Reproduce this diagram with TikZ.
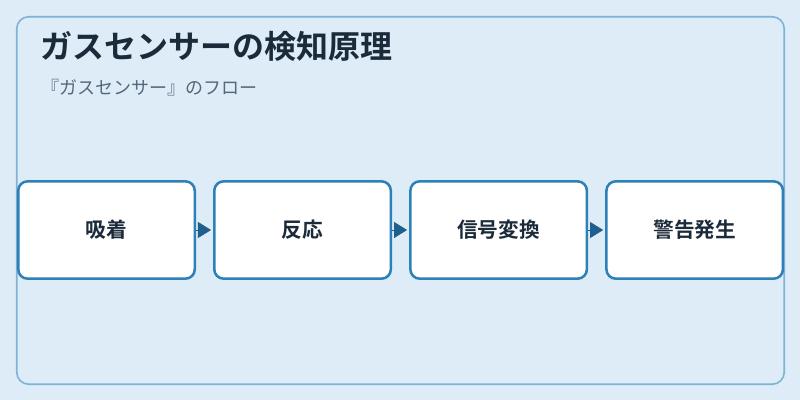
\documentclass[tikz,border=0pt]{standalone}
\usepackage{fontspec}
\setmainfont{Noto Sans CJK JP}[BoldFont={Noto Sans CJK JP Bold}]
\usetikzlibrary{positioning,arrows.meta}
\definecolor{pagebg}{HTML}{DDECF7}
\definecolor{framecol}{HTML}{7FB3D5}
\definecolor{boxcol}{HTML}{2E80B8}
\definecolor{arrowcol}{HTML}{1F5F8B}
\definecolor{titlecol}{HTML}{1B2B3A}
\definecolor{subcol}{HTML}{56677A}

\begin{document}
\begin{tikzpicture}[x=0.75pt,y=-0.75pt,
   stepbox/.style={draw=boxcol,fill=white,line width=1.9pt,rounded corners=7pt,
                   minimum width=132.4pt,minimum height=73pt,
                   font=\bfseries\fontsize{15.5pt}{18pt}\selectfont,text=titlecol},
   flow/.style={draw=arrowcol,line width=0.6pt,shorten >=1.5pt,
                -{Triangle[length=9.8pt,width=12pt]},arrowcol},
   node distance=12.75pt]

\useasboundingbox[fill=pagebg] (0,0) rectangle (800,400);
\draw[framecol,line width=1.2pt,rounded corners=9pt] (16.75,16.75) rectangle (784.25,384.25);

\node[anchor=base west,text=titlecol,font=\bfseries\fontsize{24pt}{29pt}\selectfont,inner sep=0pt]
   (title) at (40,58.5) {ガスセンサーの検知原理};
\node[anchor=base west,text=subcol,font=\fontsize{13.5pt}{16pt}\selectfont,inner sep=0pt]
   (sub) at (41,94.5) {『ガスセンサー』のフロー};

\node[stepbox] (adsorb) at (106.5,230) {吸着};
\node[stepbox,right=of adsorb] (react) {反応};
\node[stepbox,right=of react] (convert) {信号変換};
\node[stepbox,right=of convert] (alarm) {警告発生};

\draw[flow] (adsorb) -- (react);
\draw[flow] (react) -- (convert);
\draw[flow] (convert) -- (alarm);

\end{tikzpicture}
\end{document}
